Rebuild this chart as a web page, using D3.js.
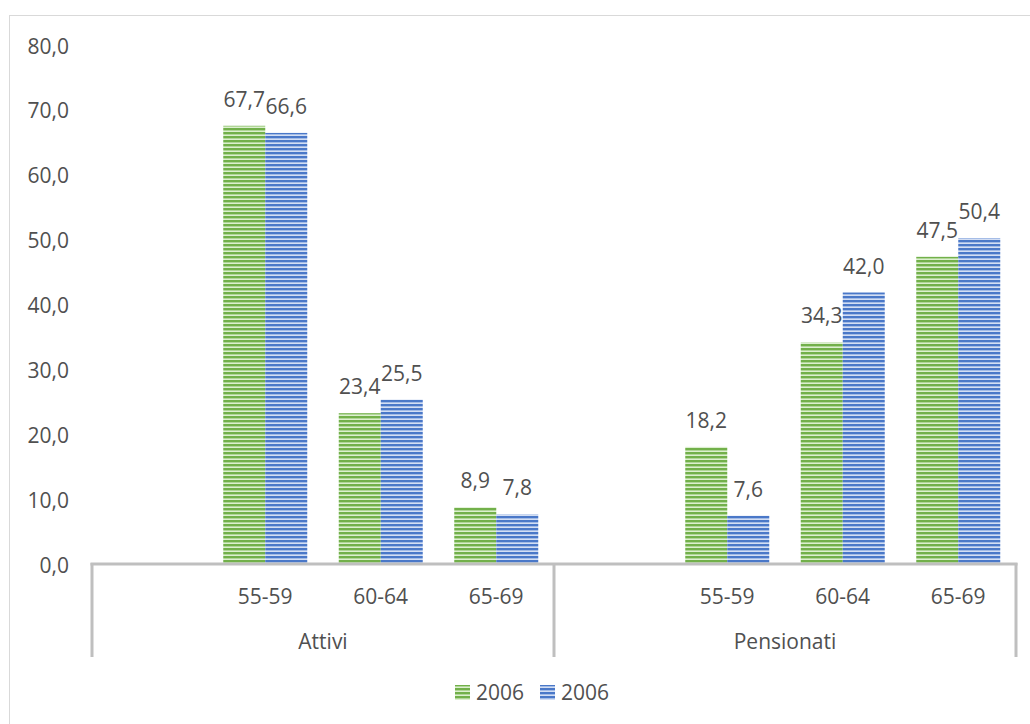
<!DOCTYPE html>
<html><head><meta charset="utf-8">
<script src="https://cdnjs.cloudflare.com/ajax/libs/d3/7.8.5/d3.min.js"></script>
<style>html,body{margin:0;padding:0;background:#fff;}svg{display:block;}</style>
</head><body>
<svg id="chart" width="1030" height="724"></svg>
<script>
const groups = ["Attivi", "Pensionati"];
const ages = ["55-59", "60-64", "65-69"];
const seriesNames = ["2006", "2006"];
const seriesA = [67.7, 23.4, 8.9, 18.2, 34.3, 47.5];
const seriesB = [66.6, 25.5, 7.8, 7.6, 42.0, 50.4];
const yTicks = [0, 10, 20, 30, 40, 50, 60, 70, 80];

const svg = d3.select("#chart");
const font = "'Open Sans', sans-serif";
const fs = 21;
const textColor = "#505050";
const fmt = v => v.toFixed(1).replace(".", ",");

// patterns
const defs = svg.append("defs");
function stripe(id, base, light, mid) {
  const p = defs.append("pattern").attr("id", id).attr("patternUnits", "userSpaceOnUse")
    .attr("width", 8).attr("height", 4);
  p.append("rect").attr("width", 8).attr("height", 4).attr("fill", base);
  p.append("rect").attr("y", 2).attr("width", 8).attr("height", 1).attr("fill", mid);
  p.append("rect").attr("y", 3).attr("width", 8).attr("height", 1).attr("fill", light);
}
stripe("pg", "#72b04a", "#dcefcf", "#b0d697");
stripe("pb", "#4a78c8", "#d3def3", "#a2bbe6");
const fills = ["url(#pg)", "url(#pb)"];

// border
svg.append("rect").attr("x", 9.5).attr("y", 15.5).attr("width", 1040).attr("height", 800)
  .attr("fill", "none").attr("stroke", "#d9d9d9").attr("stroke-width", 1);

const y = d3.scaleLinear().domain([0, 80]).range([565, 46]);
const xGroup = d3.scaleBand().domain(groups).range([92, 1016]);
const xCat = d3.scaleBand().domain(["", ...ages]).range([0, xGroup.bandwidth()]);
const xSer = d3.scaleBand().domain([0, 1]).range([-42, 42]);

// y tick labels
svg.append("g").selectAll("text").data(yTicks).join("text")
  .attr("x", 69).attr("y", d => y(d)).attr("dy", "0.36em")
  .attr("text-anchor", "end").attr("font-family", font).attr("font-size", fs)
  .attr("fill", textColor).text(d => fmt(d));

// data rows
const rows = [];
groups.forEach((g, gi) => ages.forEach((a, ai) => {
  const i = gi * ages.length + ai;
  rows.push({ g, a, vals: [seriesA[i], seriesB[i]] });
}));
const cx = d => xGroup(d.g) + xCat(d.a) + xCat.bandwidth() / 2;

const bars = svg.append("g");
rows.forEach(r => {
  r.vals.forEach((v, si) => {
    bars.append("rect")
      .attr("x", cx(r) + xSer(si)).attr("width", xSer.bandwidth())
      .attr("y", y(v)).attr("height", y(0) - y(v))
      .attr("fill", fills[si]);
    bars.append("text")
      .attr("x", cx(r) + xSer(si) + xSer.bandwidth() / 2).attr("y", y(v) - 19)
      .attr("text-anchor", "middle").attr("font-family", font).attr("font-size", fs)
      .attr("fill", textColor).text(fmt(v));
  });
});

// axis lines
const axisColor = "#bfbfbf";
svg.append("line").attr("x1", 90.5).attr("x2", 1017.5).attr("y1", 564).attr("y2", 564)
  .attr("stroke", axisColor).attr("stroke-width", 3);
const seps = [xGroup(groups[0]), xGroup(groups[1]), xGroup(groups[1]) + xGroup.bandwidth()];
svg.append("g").selectAll("line").data(seps).join("line")
  .attr("x1", d => d).attr("x2", d => d).attr("y1", 563).attr("y2", 657)
  .attr("stroke", axisColor).attr("stroke-width", 3);

// category labels
svg.append("g").selectAll("text").data(rows).join("text")
  .attr("x", d => cx(d)).attr("y", 596).attr("dy", "0.36em")
  .attr("text-anchor", "middle").attr("font-family", font).attr("font-size", fs)
  .attr("fill", textColor).text(d => d.a);

// group labels
svg.append("g").selectAll("text").data(groups).join("text")
  .attr("x", d => xGroup(d) + xGroup.bandwidth() / 2).attr("y", 641).attr("dy", "0.36em")
  .attr("text-anchor", "middle").attr("font-family", font).attr("font-size", fs)
  .attr("fill", textColor).text(d => d);

// legend
const legX = [455, 540];
const leg = svg.append("g");
seriesNames.forEach((n, i) => {
  leg.append("rect").attr("x", legX[i]).attr("y", 685).attr("width", 15).attr("height", 15)
    .attr("fill", fills[i]);
  leg.append("text").attr("x", legX[i] + 21).attr("y", 692.5).attr("dy", "0.36em")
    .attr("font-family", font).attr("font-size", fs).attr("fill", textColor).text(n);
});
</script>
</body></html>
